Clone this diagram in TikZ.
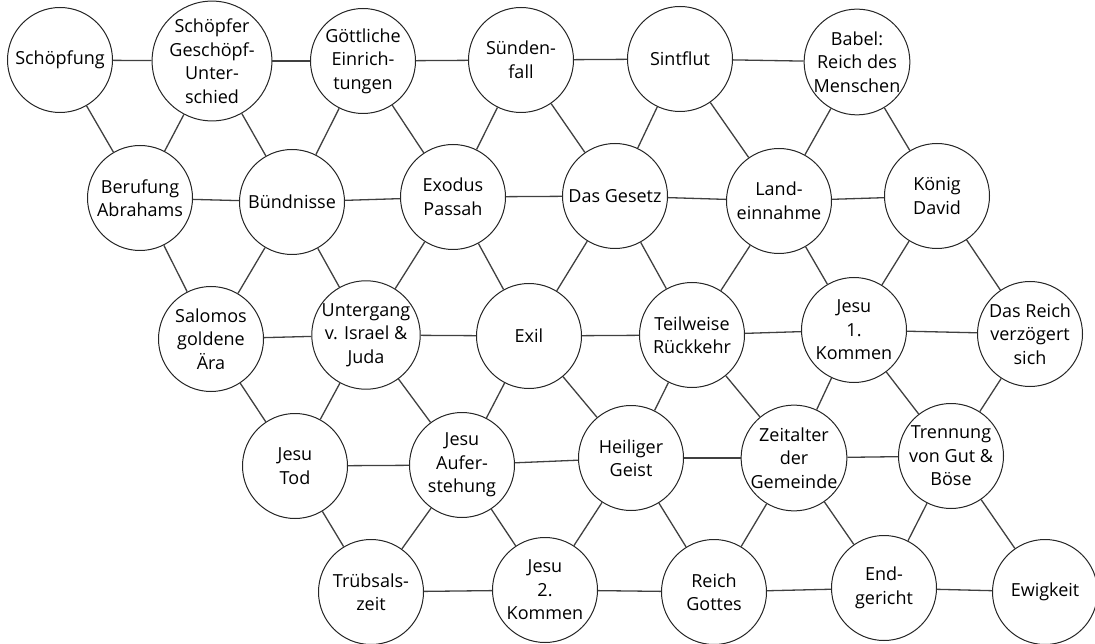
\documentclass[tikz,border=0pt]{standalone}
\usepackage{fontspec}
\setmainfont{Open Sans}
\usepackage{tikz}

\tikzset{
    station/.style={draw=black!85, circle, fill=white, line width=1pt, minimum size=105pt, inner sep=0pt, align=center, font=\fontsize{18}{23.5}\selectfont},
    link/.style={draw=black!75, line width=1.3pt}
}

\begin{document}
\begin{tikzpicture}[x=1pt, y=-1pt]
        \useasboundingbox (0,0) rectangle (1095,644);

        % row 1
        \node [station] (schoepfung) at (60,60) {Schöpfung};
        \node [station] (unterschied) at (212,61) {Schöpfer\\Geschöpf-\\Unter-\\schied};
        \node [station] (einrichtungen) at (363,61) {Göttliche\\Einrich-\\tungen};
        \node [station] (suendenfall) at (521,60) {Sünden-\\fall};
        \node [station] (sintflut) at (680,59) {Sintflut};
        \node [station] (babel) at (857,62) {Babel:\\Reich des\\Menschen};

        % row 2
        \node [station] (abraham) at (140,198) {Berufung\\Abrahams};
        \node [station] (buendnisse) at (292,202) {Bündnisse};
        \node [station] (exodus) at (453,197) {Exodus\\Passah};
        \node [station] (gesetz) at (615,196) {Das Gesetz};
        \node [station] (landnahme) at (779,201) {Land-\\einnahme};
        \node [station] (david) at (937,196) {König\\David};

        % row 3
        \node [station] (salomo) at (211,339) {Salomos\\goldene\\Ära};
        \node [station] (untergang) at (366,335) {Untergang\\v. Israel \&\\Juda};
        \node [station] (exil) at (529,336) {Exil};
        \node [station] (rueckkehr) at (692,335) {Teilweise\\Rückkehr};
        \node [station] (kommenA) at (854,330) {Jesu\\1.\\Kommen};
        \node [station] (verzoegert) at (1030,334) {Das Reich\\verzögert\\sich};

        % row 4
        \node [station] (tod) at (295,466) {Jesu\\Tod};
        \node [station] (auferstehung) at (462,465) {Jesu\\Aufer-\\stehung};
        \node [station] (geist) at (631,458) {Heiliger\\Geist};
        \node [station] (gemeinde) at (794,458) {Zeitalter\\der\\Gemeinde};
        \node [station] (trennung) at (951,456) {Trennung\\von Gut \&\\Böse};

        % row 5
        \node [station] (truebsal) at (371,592) {Trübsals-\\zeit};
        \node [station] (kommenB) at (545,590) {Jesu\\2.\\Kommen};
        \node [station] (gottesreich) at (714,592) {Reich\\Gottes};
        \node [station] (gericht) at (884,588) {End-\\gericht};
        \node [station] (ewigkeit) at (1045,592) {Ewigkeit};

        % connectors
        \foreach \a/\b in {schoepfung/unterschied, unterschied/einrichtungen, einrichtungen/suendenfall, suendenfall/sintflut, sintflut/babel,
                abraham/buendnisse, buendnisse/exodus, exodus/gesetz, gesetz/landnahme, landnahme/david,
                salomo/untergang, untergang/exil, exil/rueckkehr, rueckkehr/kommenA, kommenA/verzoegert,
                tod/auferstehung, auferstehung/geist, geist/gemeinde, gemeinde/trennung,
                truebsal/kommenB, kommenB/gottesreich, gottesreich/gericht, gericht/ewigkeit,
                schoepfung/abraham, unterschied/abraham, unterschied/buendnisse, einrichtungen/buendnisse, einrichtungen/exodus,
                suendenfall/exodus, suendenfall/gesetz, sintflut/gesetz, sintflut/landnahme, babel/landnahme, babel/david,
                abraham/salomo, buendnisse/salomo, buendnisse/untergang, exodus/untergang, exodus/exil,
                gesetz/exil, gesetz/rueckkehr, landnahme/rueckkehr, landnahme/kommenA, david/kommenA, david/verzoegert,
                salomo/tod, untergang/tod, untergang/auferstehung, exil/auferstehung, exil/geist,
                rueckkehr/geist, rueckkehr/gemeinde, kommenA/gemeinde, kommenA/trennung, verzoegert/trennung,
                tod/truebsal, auferstehung/truebsal, auferstehung/kommenB, geist/kommenB, geist/gottesreich,
                gemeinde/gottesreich, gemeinde/gericht, trennung/gericht, trennung/ewigkeit} {
            \draw [link] (\a) -- (\b);
        }

    \end{tikzpicture}
\end{document}
